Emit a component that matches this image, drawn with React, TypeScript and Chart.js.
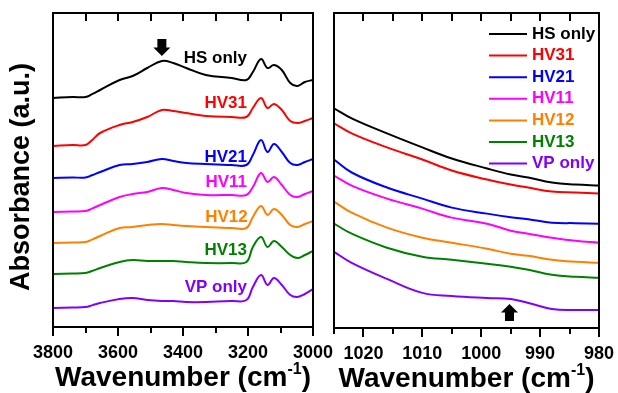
import React, { useEffect, useRef } from 'react';
import { Chart, registerables } from 'chart.js';
Chart.register(...registerables);

// ---------- data ----------
const seriesNames = ['HS only', 'HV31', 'HV21', 'HV11', 'HV12', 'HV13', 'VP only'];
const seriesColors = ['#000000', '#ff0000', '#0000ff', '#ff00ff', '#ff8000', '#008000', '#8000ff'];

const leftWavenumbers = [3800, 3740, 3700, 3680, 3655, 3595, 3555, 3510, 3465, 3430, 3390, 3330, 3250, 3205, 3185, 3160, 3140, 3120, 3096, 3070, 3048, 3025, 3000];
const hsOnlyLeft = [229, 230, 230, 232.8, 237, 247, 251, 259, 266, 264, 259, 252, 249, 247, 255, 268, 259, 262, 257, 244, 241, 245, 247];
const hv31Left = [181, 182, 182, 186.8, 194, 202, 205, 210, 217, 216, 214, 211, 210, 210, 219, 229, 219, 223, 217, 206, 204, 206, 209];
const hv21Left = [149, 149.5, 149.5, 151.7, 155, 162, 163, 165, 168, 166, 164, 163, 162, 162, 172, 187, 175, 183, 175, 164, 162, 165, 168];
const hv11Left = [115, 115.5, 116, 118.4, 122, 130, 133, 135, 139, 137, 134, 132, 132, 132, 140, 154, 145, 150, 142, 132, 130, 133, 136];
const hv12Left = [84, 84.5, 85, 87.4, 91, 99, 100, 102, 103, 102, 101, 100, 99, 99, 110, 121, 112, 118, 112, 102, 100, 103, 106];
const hv13Left = [53, 53.5, 54, 56, 59, 65, 67, 66, 66, 66, 65, 64, 64, 65, 80, 90, 80, 86, 80, 72, 69, 72, 76];
const vpOnlyLeft = [19, 19.5, 20, 21.6, 24, 28, 29, 27, 26, 26, 25, 25, 26, 27, 40, 52, 42, 49, 42, 32, 30, 33, 38];
const leftSeries = [hsOnlyLeft, hv31Left, hv21Left, hv11Left, hv12Left, hv13Left, vpOnlyLeft];

const rightWavenumbers = [1025, 1022, 1016, 1010, 1005, 999, 995, 992, 988, 984, 980];
const hsOnlyRight = [219, 209, 194, 180, 169, 159, 153, 150, 145, 143, 142];
const hv31Right = [204, 194, 180, 168, 157, 148, 143, 140, 136, 135, 134];
const hv21Right = [168, 155, 140, 129, 120, 114, 110.5, 108.5, 105, 104.5, 104];
const hv11Right = [152, 142, 129, 119, 110, 104, 97, 94, 90, 87, 85];
const hv12Right = [126, 115, 100, 90, 85, 79, 74, 72, 68, 66, 65];
const hv13Right = [104, 94, 80, 71, 68, 64, 61, 58, 53, 51, 50];
const vpOnlyRight = [76, 65, 49, 35, 32, 30, 29, 25, 19, 18, 18];
const rightSeries = [hsOnlyRight, hv31Right, hv21Right, hv11Right, hv12Right, hv13Right, vpOnlyRight];

const leftMajorTicks = [3800, 3600, 3400, 3200, 3000];
const leftMinorTicks = [3700, 3500, 3300, 3100];
const rightMajorTicks = [1020, 1010, 1000, 990, 980];
const rightMinorTicks = [1025, 1015, 1005, 995, 985];

// curve labels in the left panel: [right-edge wavenumber, absorbance]
const leftLabelWn = [3203, 3203, 3203, 3203, 3201, 3203, 3203];
const leftLabelY = [269, 224, 170, 145, 110, 77, 40];

const yMin = 0;
const yMax = 314;

const FONT = '"Liberation Sans", Arial, sans-serif';

function makeAxesPlugin(opts: {
  major: number[];
  minor: number[];
  yTitle: boolean;
  curveLabels: boolean;
  legend: boolean;
  arrow: { wn: number; y: number; dir: 'down' | 'up' };
}) {
  return {
    id: 'customAxes',
    afterDatasetsDraw(chart: any) {
      const { ctx, chartArea: a, scales } = chart;
      const xs = scales.x;
      const ys = scales.y;
      ctx.save();
      ctx.strokeStyle = '#000';
      ctx.fillStyle = '#000';
      ctx.lineWidth = 2;
      ctx.strokeRect(a.left, a.top, a.right - a.left, a.bottom - a.top);
      const seg = (x1: number, y1: number, x2: number, y2: number) => {
        ctx.beginPath();
        ctx.moveTo(x1, y1);
        ctx.lineTo(x2, y2);
        ctx.stroke();
      };
      for (const v of opts.major) {
        const px = Math.round(xs.getPixelForValue(v));
        seg(px, a.bottom, px, a.bottom + 9);
        seg(px, a.top, px, a.top + 8);
      }
      for (const v of opts.minor) {
        const px = Math.round(xs.getPixelForValue(v));
        seg(px, a.bottom, px, a.bottom + 6);
        seg(px, a.top, px, a.top + 8);
      }
      ctx.font = `bold 18px ${FONT}`;
      ctx.textAlign = 'center';
      ctx.textBaseline = 'middle';
      for (const v of opts.major) {
        ctx.fillText(String(v), xs.getPixelForValue(v), a.bottom + 26);
      }
      // x title with superscript
      const main = 'Wavenumber (cm';
      const sup = '-1';
      const close = ')';
      ctx.font = `bold 28px ${FONT}`;
      const w1 = ctx.measureText(main).width;
      const w3 = ctx.measureText(close).width;
      ctx.font = `bold 16px ${FONT}`;
      const w2 = ctx.measureText(sup).width;
      const total = w1 + w2 + w3;
      const cx = (a.left + a.right) / 2;
      let sx = cx - total / 2;
      const ty = a.bottom + 51;
      ctx.textAlign = 'left';
      ctx.textBaseline = 'middle';
      ctx.font = `bold 28px ${FONT}`;
      ctx.fillText(main, sx, ty);
      sx += w1;
      ctx.font = `bold 16px ${FONT}`;
      ctx.fillText(sup, sx, ty - 8);
      sx += w2;
      ctx.font = `bold 28px ${FONT}`;
      ctx.fillText(close, sx, ty);

      if (opts.yTitle) {
        ctx.save();
        ctx.translate(a.left - 31, 177);
        ctx.rotate(-Math.PI / 2);
        ctx.font = `bold 27px ${FONT}`;
        ctx.textAlign = 'center';
        ctx.textBaseline = 'middle';
        ctx.fillText('Absorbance (a.u.)', 0, 0);
        ctx.restore();
      }

      if (opts.curveLabels) {
        ctx.font = `bold 17px ${FONT}`;
        ctx.textAlign = 'right';
        ctx.textBaseline = 'middle';
        seriesNames.forEach((n, i) => {
          ctx.fillStyle = seriesColors[i];
          ctx.fillText(n, xs.getPixelForValue(leftLabelWn[i]), ys.getPixelForValue(leftLabelY[i]));
        });
      }

      if (opts.legend) {
        ctx.font = `bold 17px ${FONT}`;
        ctx.textAlign = 'left';
        ctx.textBaseline = 'middle';
        seriesNames.forEach((n, i) => {
          const ly = a.top + 21 + i * 21.6;
          ctx.strokeStyle = seriesColors[i];
          ctx.lineWidth = 2;
          seg(a.right - 110, ly, a.right - 72, ly);
          ctx.fillStyle = seriesColors[i];
          ctx.fillText(n, a.right - 67, ly);
        });
      }

      // arrow
      {
        const px = xs.getPixelForValue(opts.arrow.wn);
        const tip = ys.getPixelForValue(opts.arrow.y);
        const d = opts.arrow.dir === 'down' ? -1 : 1;
        ctx.fillStyle = '#000';
        ctx.beginPath();
        ctx.moveTo(px, tip);
        ctx.lineTo(px - 8.5, tip + d * 8.5);
        ctx.lineTo(px - 4.5, tip + d * 8.5);
        ctx.lineTo(px - 4.5, tip + d * 17);
        ctx.lineTo(px + 4.5, tip + d * 17);
        ctx.lineTo(px + 4.5, tip + d * 8.5);
        ctx.lineTo(px + 8.5, tip + d * 8.5);
        ctx.closePath();
        ctx.fill();
      }
      ctx.restore();
    },
  };
}

function buildConfig(
  wns: number[],
  series: number[][],
  xmin: number,
  xmax: number,
  padding: any,
  plugin: any
): any {
  return {
    type: 'line',
    data: {
      datasets: series.map((vals, i) => ({
        label: seriesNames[i],
        data: wns.map((w, j) => ({ x: w, y: vals[j] })),
        borderColor: seriesColors[i],
        borderWidth: 2,
        pointRadius: 0,
        fill: false,
        tension: 0.4,
      })),
    },
    options: {
      animation: false,
      responsive: false,
      devicePixelRatio: 1,
      layout: { padding },
      plugins: { legend: { display: false }, tooltip: { enabled: false } },
      scales: {
        x: { type: 'linear', min: xmin, max: xmax, reverse: true, display: false },
        y: { type: 'linear', min: yMin, max: yMax, display: false },
      },
    },
    plugins: [plugin],
  };
}

export default function App() {
  const leftRef = useRef<HTMLCanvasElement>(null);
  const rightRef = useRef<HTMLCanvasElement>(null);

  useEffect(() => {
    document.body.style.margin = '0';
    const c1 = new Chart(
      leftRef.current!,
      buildConfig(
        leftWavenumbers,
        leftSeries,
        3000,
        3800,
        { left: 53, right: 27, top: 13, bottom: 66 },
        makeAxesPlugin({
          major: leftMajorTicks,
          minor: leftMinorTicks,
          yTitle: true,
          curveLabels: true,
          legend: false,
          arrow: { wn: 3465, y: 271, dir: 'down' },
        })
      )
    );
    const c2 = new Chart(
      rightRef.current!,
      buildConfig(
        rightWavenumbers,
        rightSeries,
        980,
        1025,
        { left: 14, right: 19, top: 13, bottom: 65 },
        makeAxesPlugin({
          major: rightMajorTicks,
          minor: rightMinorTicks,
          yTitle: false,
          curveLabels: false,
          legend: true,
          arrow: { wn: 995.2, y: 24, dir: 'up' },
        })
      )
    );
    return () => {
      c1.destroy();
      c2.destroy();
    };
  }, []);

  return (
    <div style={{ position: 'relative', width: 618, height: 393, background: '#fff' }}>
      <canvas ref={leftRef} width={340} height={393} style={{ position: 'absolute', left: 0, top: 0, width: 340, height: 393 }} />
      <canvas ref={rightRef} width={298} height={393} style={{ position: 'absolute', left: 320, top: 0, width: 298, height: 393 }} />
    </div>
  );
}
